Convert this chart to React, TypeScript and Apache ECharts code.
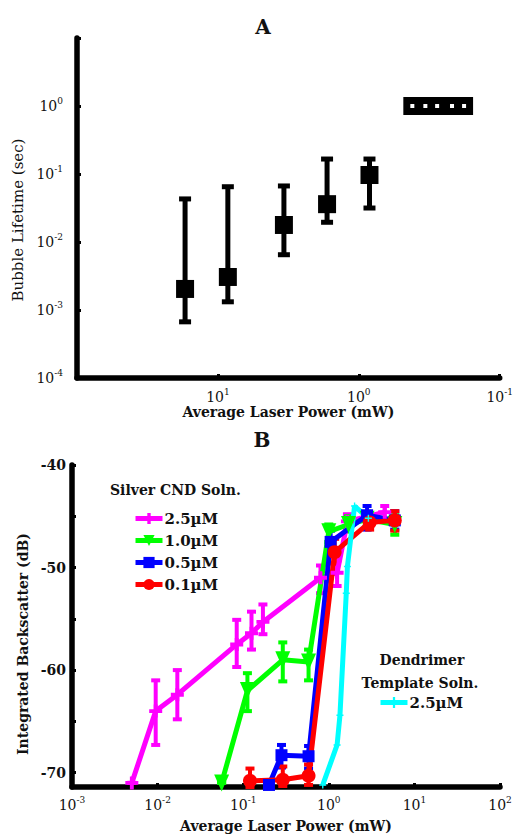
import React, { useEffect, useRef } from 'react';
import * as echarts from 'echarts';

const FONT = 'DejaVu Serif';
const INK = '#111';

// ---------- Panel A ----------
const aPower = [17.1, 8.5, 3.4, 1.68, 0.84];
const aLife = [0.00204, 0.00306, 0.0178, 0.036, 0.0966];
const aLifeLow = [0.00067, 0.00132, 0.0065, 0.0195, 0.0316];
const aLifeHigh = [0.043, 0.065, 0.0667, 0.166, 0.166];
const aStablePower = [0.417, 0.337, 0.278, 0.218, 0.179];
const aStableLife = [1, 1, 1, 1, 1];

// ---------- Panel B ----------
const mX = [0.005, 0.0095, 0.017, 0.084, 0.125, 0.17, 0.8, 1.25, 1.65, 4.5];
const mY = [-71.0, -64.0, -62.4, -57.5, -56.4, -55.3, -51.0, -50.5, -45.5, -44.6];
const mLo = [-71.0, -67.3, -64.8, -59.7, -58.0, -56.5, -52.5, -51.8, -46.3, -45.3];
const mHi = [-71.0, -61.0, -60.0, -55.1, -54.3, -53.6, -49.8, -49.3, -44.8, -44.0];

const gX = [0.056, 0.112, 0.29, 0.58, 1.0, 1.7, 2.8, 5.9];
const gY = [-71.0, -62.0, -59.0, -59.2, -46.5, -45.8, -45.3, -45.8];
const gLo = [-71.0, -64.0, -61.1, -61.0, -47.5, -46.5, -46.0, -46.8];
const gHi = [-71.0, -60.3, -57.3, -58.0, -45.8, -45.0, -44.6, -44.9];

const bX = [0.2, 0.28, 0.58, 1.05, 2.8, 5.9];
const bY = [-71.2, -68.3, -68.4, -47.5, -44.9, -45.4];
const bLo = [-71.2, -69.5, -69.6, -48.8, -46.3, -46.3];
const bHi = [-71.2, -67.3, -67.4, -46.4, -44.0, -44.5];

const rX = [0.12, 0.29, 0.58, 1.17, 3.0, 5.9];
const rY = [-70.8, -70.7, -70.3, -48.5, -45.6, -45.4];
const rLo = [-71.4, -71.3, -71.2, -49.6, -46.3, -46.4];
const rHi = [-69.6, -69.4, -69.2, -47.2, -44.9, -44.5];

const cX = [0.85, 1.25, 1.35, 1.6, 1.65, 2.0, 2.9];
const cY = [-71.2, -67.3, -64.4, -52.5, -49.9, -44.0, -45.2];

const bYTicks = [-70, -65, -60, -55, -50, -45, -40];
const bYLabels = [-70, -60, -50, -40];

const zip = (a: number[], b: number[]) => a.map((v, i) => [v, b[i]]);
const zip3 = (a: number[], b: number[], c: number[]) => a.map((v, i) => [v, b[i], c[i]]);

const PLUS = 'path://M3.5,0H6.5V3.5H10V6.5H6.5V10H3.5V6.5H0V3.5H3.5Z';
const THIN_PLUS = 'path://M4,0H6V4H10V6H6V10H4V6H0V4H4Z';
const DOWN_TRI = 'path://M0,0L10,0L5,9Z';

const errorBar = (color: string, lw: number, cap: number) => (params: any, api: any) => {
  const x = api.value(0);
  const lo = api.value(1);
  const hi = api.value(2);
  const p1 = api.coord([x, hi]);
  const p2 = api.coord([x, lo]);
  const style = { stroke: color, lineWidth: lw, fill: 'none' };
  return {
    type: 'group',
    children: [
      { type: 'line', shape: { x1: p1[0], y1: p1[1], x2: p2[0], y2: p2[1] }, style },
      { type: 'line', shape: { x1: p1[0] - cap / 2, y1: p1[1], x2: p1[0] + cap / 2, y2: p1[1] }, style },
      { type: 'line', shape: { x1: p2[0] - cap / 2, y1: p2[1], x2: p2[0] + cap / 2, y2: p2[1] }, style },
    ],
  };
};

const supRich = (size: number, bold: boolean) => ({
  b: { fontFamily: FONT, fontSize: size, color: INK, lineHeight: size + 6, fontWeight: bold ? 'bold' : 'normal' },
  s: { fontFamily: FONT, fontSize: Math.round(size * 0.65), color: INK, verticalAlign: 'top', lineHeight: size * 0.8, fontWeight: bold ? 'bold' : 'normal' },
});

const supFmt = (hide: number[]) => (v: number) => {
  const e = Math.round(Math.log10(v));
  if (hide.includes(e)) return '';
  return `{b|10}{s|${e}}`;
};

const axisLine = { show: true, lineStyle: { color: '#000', width: 5.5 } };
const axisTick = { show: true, inside: true, length: 4, lineStyle: { color: '#000', width: 3 } };
const nameStyle = (size: number, bold: boolean, padding?: number[]) => ({
  fontFamily: FONT, fontSize: size, color: INK, fontWeight: bold ? 'bold' : 'normal',
  ...(padding ? { padding } : {}),
});

export default function App() {
  const ref = useRef<HTMLDivElement>(null);
  useEffect(() => {
    document.body.style.margin = '0';
    if (!ref.current) return;
    const chart = echarts.init(ref.current, undefined, { renderer: 'svg' });
    const legendText = { fontFamily: FONT, fontSize: 15, fontWeight: 'bold', color: INK, padding: [0, 0, 0, -3] };
    const option: any = {
      animation: false,
      backgroundColor: '#fff',
      grid: [
        { left: 77, top: 38, width: 426, height: 340 },
        { left: 72, top: 465, width: 428, height: 322 },
      ],
      xAxis: [
        {
          gridIndex: 0, type: 'log', logBase: 10, min: 0.1, max: 100, inverse: true,
          axisLine, axisTick, splitLine: { show: false }, minorTick: { show: false },
          axisLabel: { margin: 9, formatter: supFmt([2]), rich: supRich(14, false) },
          name: 'Average Laser Power (mW)', nameLocation: 'middle', nameGap: 24, nameTextStyle: nameStyle(14, true),
        },
        {
          gridIndex: 1, type: 'log', logBase: 10, min: 0.001, max: 100,
          axisLine, axisTick, splitLine: { show: false },
          axisLabel: { margin: 8, formatter: supFmt([]), rich: supRich(14, false) },
          name: 'Average Laser Power (mW)', nameLocation: 'middle', nameGap: 32, nameTextStyle: nameStyle(14, true),
        },
      ],
      yAxis: [
        {
          gridIndex: 0, type: 'log', logBase: 10, min: 0.0001, max: 10,
          axisLine, axisTick, splitLine: { show: false },
          axisLabel: { margin: 14, formatter: supFmt([1]), rich: supRich(14, false) },
          name: 'Bubble Lifetime (sec)', nameLocation: 'middle', nameGap: 51,
          nameTextStyle: nameStyle(15, false, [0, 24, 0, 0]),
        },
        {
          gridIndex: 1, type: 'value', min: -71.4, max: -40,
          axisLine, splitLine: { show: false },
          axisTick: { ...axisTick, customValues: bYTicks },
          axisLabel: { margin: 6, customValues: bYLabels, fontFamily: FONT, fontSize: 14, fontWeight: 'bold', color: INK },
          name: 'Integrated Backscatter (dB)', nameLocation: 'middle', nameGap: 42,
          nameTextStyle: nameStyle(14, true, [0, 36, 0, 0]),
        },
      ],
      legend: [
        {
          data: ['2.5µM', '1.0µM', '0.5µM', '0.1µM'],
          orient: 'vertical', left: 133, top: 511, padding: 0, itemGap: 7, itemWidth: 27, itemHeight: 14,
          selectedMode: false, lineStyle: { width: 5 },
          textStyle: legendText,
        },
        {
          data: ['Dendrimer 2.5µM'],
          orient: 'vertical', left: 378, top: 695, padding: 0, itemWidth: 27, itemHeight: 14,
          selectedMode: false, formatter: () => '2.5µM', lineStyle: { width: 5 },
          textStyle: legendText,
        },
      ],
      graphic: [
        { type: 'text', x: 263, y: 27, style: { text: 'A', fontFamily: FONT, fontSize: 20, fontWeight: 'bold', fill: INK, align: 'center', verticalAlign: 'middle' } },
        { type: 'text', x: 262, y: 440, style: { text: 'B', fontFamily: FONT, fontSize: 20, fontWeight: 'bold', fill: INK, align: 'center', verticalAlign: 'middle' } },
        { type: 'text', x: 110, y: 490, style: { text: 'Silver CND Soln.', fontFamily: FONT, fontSize: 14, fontWeight: 'bold', fill: INK, align: 'left', verticalAlign: 'middle' } },
        { type: 'text', x: 422, y: 660, style: { text: 'Dendrimer', fontFamily: FONT, fontSize: 14, fontWeight: 'bold', fill: INK, align: 'center', verticalAlign: 'middle' } },
        { type: 'text', x: 420, y: 683, style: { text: 'Template Soln.', fontFamily: FONT, fontSize: 14, fontWeight: 'bold', fill: INK, align: 'center', verticalAlign: 'middle' } },
      ],
      series: [
        // Panel A
        {
          type: 'custom', name: 'A err', xAxisIndex: 0, yAxisIndex: 0,
          renderItem: errorBar('#000', 5, 12), encode: { x: 0, y: [1, 2] },
          data: zip3(aPower, aLifeLow, aLifeHigh), silent: true,
        },
        {
          type: 'scatter', name: 'A lifetime', xAxisIndex: 0, yAxisIndex: 0,
          symbol: 'rect', symbolSize: 18, itemStyle: { color: '#000', opacity: 1 },
          data: zip(aPower, aLife), silent: true,
        },
        {
          type: 'scatter', name: 'A stable', xAxisIndex: 0, yAxisIndex: 0,
          symbol: 'rect', symbolSize: 11, itemStyle: { color: '#fff', borderColor: '#000', borderWidth: 7, opacity: 1 },
          data: zip(aStablePower, aStableLife), silent: true,
        },
        // Panel B
        {
          type: 'custom', name: 'm err', xAxisIndex: 1, yAxisIndex: 1,
          renderItem: errorBar('#ff00ff', 4, 9), encode: { x: 0, y: [1, 2] },
          data: zip3(mX, mLo, mHi), silent: true,
        },
        {
          type: 'line', name: '2.5µM', xAxisIndex: 1, yAxisIndex: 1,
          data: zip(mX, mY), symbol: PLUS, symbolSize: 13, showSymbol: true,
          lineStyle: { color: '#ff00ff', width: 5 }, itemStyle: { color: '#ff00ff' }, silent: true,
        },
        {
          type: 'custom', name: 'g err', xAxisIndex: 1, yAxisIndex: 1,
          renderItem: errorBar('#00ff00', 4, 9), encode: { x: 0, y: [1, 2] },
          data: zip3(gX, gLo, gHi), silent: true,
        },
        {
          type: 'line', name: '1.0µM', xAxisIndex: 1, yAxisIndex: 1,
          data: zip(gX, gY), symbol: DOWN_TRI, symbolSize: [15, 17], showSymbol: true,
          lineStyle: { color: '#00ff00', width: 5 }, itemStyle: { color: '#00ff00' }, silent: true,
        },
        {
          type: 'custom', name: 'b err', xAxisIndex: 1, yAxisIndex: 1,
          renderItem: errorBar('#0000ff', 4, 9), encode: { x: 0, y: [1, 2] },
          data: zip3(bX, bLo, bHi), silent: true,
        },
        {
          type: 'line', name: '0.5µM', xAxisIndex: 1, yAxisIndex: 1,
          data: zip(bX, bY), symbol: 'rect', symbolSize: 12, showSymbol: true,
          lineStyle: { color: '#0000ff', width: 5 }, itemStyle: { color: '#0000ff' }, silent: true,
        },
        {
          type: 'custom', name: 'r err', xAxisIndex: 1, yAxisIndex: 1,
          renderItem: errorBar('#ff0000', 4, 9), encode: { x: 0, y: [1, 2] },
          data: zip3(rX, rLo, rHi), silent: true,
        },
        {
          type: 'line', name: '0.1µM', xAxisIndex: 1, yAxisIndex: 1,
          data: zip(rX, rY), symbol: 'circle', symbolSize: 14, showSymbol: true,
          lineStyle: { color: '#ff0000', width: 5 }, itemStyle: { color: '#ff0000' }, silent: true,
        },
        {
          type: 'line', name: 'Dendrimer 2.5µM', xAxisIndex: 1, yAxisIndex: 1,
          data: zip(cX, cY), symbol: THIN_PLUS, symbolSize: 7, showSymbol: true,
          lineStyle: { color: '#00ffff', width: 5 }, itemStyle: { color: '#00ffff' }, silent: true,
        },
      ],
    };
    chart.setOption(option);
    return () => chart.dispose();
  }, []);
  return <div ref={ref} style={{ width: 516, height: 840 }} />;
}
